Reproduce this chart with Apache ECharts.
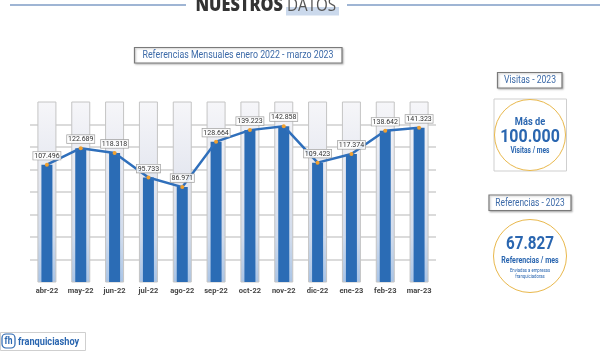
<!DOCTYPE html>
<html>
<head>
<meta charset="utf-8">
<script src="https://cdn.jsdelivr.net/npm/echarts@6/dist/echarts.min.js"></script>
<style>
html,body{margin:0;padding:0;background:#fff;}
#c{width:600px;height:351px;}
</style>
</head>
<body>
<div id="c"></div>
<script>
var months = ['abr-22','may-22','jun-22','jul-22','ago-22','sep-22','oct-22','nov-22','dic-22','ene-23','feb-23','mar-23'];
var referencias = [107.496,122.689,118.318,95.733,86.971,128.664,139.223,142.858,109.423,117.374,138.642,141.323];
var axisMax = 165;
var axisInterval = 20.625;

var F = "Roboto, sans-serif";
var blue = '#2b6cb5';
var tblue = '#2a66b0';
var chart = echarts.init(document.getElementById('c'), null, {renderer:'canvas'});

function txt(x, y, s, font, color, sx, align){
  return {type:'text', x:x, y:y, scaleX:sx||1, scaleY:1,
    style:{text:s, fill:color, font:font, textAlign:align||'center', textVerticalAlign:'middle'}};
}
function box(x, y, w, h){
  return {type:'rect', shape:{x:x,y:y,width:w,height:h},
    style:{fill:'#fff',stroke:'#7a7a7a',lineWidth:1.2, shadowBlur:2, shadowColor:'rgba(0,0,0,0.25)', shadowOffsetX:1, shadowOffsetY:1}};
}

var graphics = [
  {type:'line', shape:{x1:10,y1:5,x2:186,y2:5}, style:{stroke:'#7f9cc6',lineWidth:1.5}},
  {type:'line', shape:{x1:347,y1:5,x2:600,y2:5}, style:{stroke:'#7f9cc6',lineWidth:1.5}},
  {type:'rect', shape:{x:286,y:7,width:53,height:8.5}, style:{fill:'#cbd9ec'}},
  {type:'text', x:283, y:15, scaleX:0.86, style:{text:'NUESTROS', fill:'#333', font:'900 19px "Open Sans", Lato, sans-serif', textAlign:'right', textVerticalAlign:'bottom'}},
  {type:'text', x:287, y:15, scaleX:0.8, style:{text:'DATOS', fill:'#555', font:'400 19px "Open Sans", Lato, sans-serif', textAlign:'left', textVerticalAlign:'bottom'}},

  box(134.5, 47.5, 207.5, 15.5),
  txt(238, 55.5, 'Referencias Mensuales enero 2022 - marzo 2023', '10px '+F, '#3c6aa8', 0.88),

  box(497.5, 72.5, 64.5, 15.5),
  txt(530, 80.5, 'Visitas - 2023', '10px '+F, '#3c6aa8', 0.86),
  {type:'rect', shape:{x:494,y:99,width:72.5,height:72}, style:{fill:'#fff',stroke:'#cfcfcf',lineWidth:1}},
  {type:'circle', shape:{cx:530,cy:135,r:35.5}, style:{fill:'#fff',stroke:'#e9b84c',lineWidth:1}},
  txt(530, 122, 'Más de', 'bold 11px '+F, tblue, 0.84),
  txt(530, 137, '100.000', 'bold 19px '+F, tblue, 0.84),
  txt(530, 151, 'Visitas / mes', 'bold 8.5px '+F, tblue, 0.78),

  box(489, 195, 82, 15.5),
  txt(530, 203, 'Referencias - 2023', '10px '+F, '#3c6aa8', 0.84),
  {type:'circle', shape:{cx:530,cy:256,r:36.5}, style:{fill:'#fff',stroke:'#e9b84c',lineWidth:1}},
  txt(530, 244, '67.827', 'bold 19px '+F, tblue, 0.8),
  txt(530, 261, 'Referencias / mes', 'bold 9.5px '+F, tblue, 0.74),
  txt(530, 271, 'Enviadas a empresas', '5px '+F, tblue, 0.85),
  txt(530, 277, 'franquiciadoras', '5px '+F, tblue, 0.85),

  {type:'rect', shape:{x:0.5,y:332.5,width:85,height:18}, style:{fill:'#fff',stroke:'#cfcfcf',lineWidth:1}},
  {type:'rect', shape:{x:2,y:334,width:13,height:14,r:4}, style:{fill:'#fff',stroke:tblue,lineWidth:1.2}},
  txt(8.5, 341.5, 'fh', 'bold 10px '+F, tblue, 0.85),
  txt(18, 342, 'franquiciashoy', 'bold 11.5px '+F, tblue, 0.8, 'left')
];

var option = {
  animation:false,
  backgroundColor:'#fff',
  grid:{left:30, right:164, top:102, bottom:69},
  xAxis:[
    {type:'category', data:months, axisLine:{show:false}, axisTick:{show:false},
     axisLabel:{interval:0, color:'#444', fontSize:7.5, fontWeight:'bold', fontFamily:F, margin:5}},
    {type:'category', data:months, show:false}
  ],
  yAxis:{type:'value', min:0, max:axisMax, interval:axisInterval,
    axisLine:{show:false}, axisTick:{show:false}, axisLabel:{show:false},
    splitLine:{show:true, showMinLine:false, showMaxLine:false, lineStyle:{color:'#cfcfcf', width:1.5}}},
  series:[
    {type:'bar', xAxisIndex:0, data:referencias, barWidth:18, z:2,
     itemStyle:{color:'rgba(0,0,0,0)'},
     showBackground:true,
     backgroundStyle:{
       color:new echarts.graphic.LinearGradient(0,0,0,1,[
         {offset:0,color:'#f6f6f9'},{offset:0.45,color:'#e3e6ef'},{offset:0.75,color:'#d0dbec'},{offset:1,color:'#a9c4e6'}]),
       borderColor:'#c4c4c4', borderWidth:1}
    },
    {type:'bar', xAxisIndex:1, data:referencias, barWidth:11, z:3,
     itemStyle:{color:blue}},
    {type:'line', xAxisIndex:1, data:referencias, z:5,
     lineStyle:{color:'#2f6fbb', width:2.5},
     symbol:'circle', symbolSize:4,
     itemStyle:{color:'#f0a030', borderWidth:0},
     label:{show:true, position:'top', distance:3, fontSize:7, color:'#333', fontFamily:F,
       backgroundColor:'rgba(255,255,255,0.85)', borderColor:'#9a9a9a', borderWidth:0.6, padding:[1,1,0,1],
       formatter:function(p){return p.value.toFixed(3);}}
    }
  ],
  graphic:graphics
};
chart.setOption(option);
</script>
</body>
</html>
